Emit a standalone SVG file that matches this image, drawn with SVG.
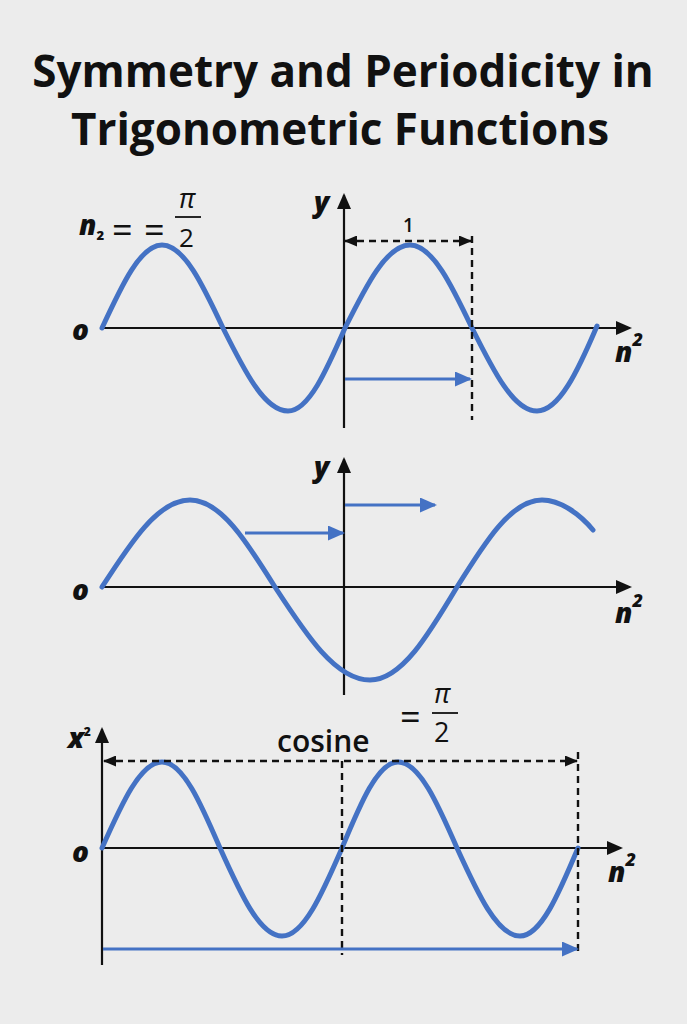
<svg xmlns="http://www.w3.org/2000/svg" width="687" height="1024" viewBox="0 0 687 1024">
<style>
.bg{fill:#ececec}
.title{font-family:"Open Sans","Liberation Sans",sans-serif;font-weight:700;font-size:44px;fill:#111;text-anchor:middle}
.lbl{font-family:"Open Sans","Liberation Sans",sans-serif;font-weight:800;font-style:italic;font-size:28px;fill:#111}
.txt{font-family:"Open Sans","Liberation Sans",sans-serif;fill:#111}
.eq{font-family:"Open Sans","Liberation Sans",sans-serif;fill:#111;font-size:36px;font-weight:500}
.axis{stroke:#111;stroke-width:2.2;fill:none}
.dash{stroke:#111;stroke-width:2.4;stroke-dasharray:7 5;fill:none}
.curve{stroke:#4472c4;stroke-width:5;fill:none;stroke-linecap:round;stroke-linejoin:round}
.barr{stroke:#4472c4;stroke-width:3;fill:none}
.bar{stroke:#111;stroke-width:1.8}
</style>
<defs>
<marker id="axArrow" viewBox="0 0 16 14" refX="14" refY="7" markerWidth="16" markerHeight="14" markerUnits="userSpaceOnUse" orient="auto">
<path d="M0,0 L16,7 L0,14 z" fill="#111"/>
</marker>
<marker id="dArrow" viewBox="0 0 13 11" refX="12" refY="5.5" markerWidth="13" markerHeight="11" markerUnits="userSpaceOnUse" orient="auto-start-reverse">
<path d="M0,0 L13,5.5 L0,11 z" fill="#111"/>
</marker>
<marker id="bArrow" viewBox="0 0 17 15" refX="15" refY="7.5" markerWidth="17" markerHeight="15" markerUnits="userSpaceOnUse" orient="auto">
<path d="M0,0 L17,7.5 L0,15 z" fill="#4472c4"/>
</marker>
</defs>
<rect class="bg" x="0" y="0" width="687" height="1024"/>

<g id="title">
<text class="title" x="343" y="87">Symmetry and Periodicity in</text>
<text class="title" x="340" y="145">Trigonometric Functions</text>
</g>

<g id="panel1">
<line class="axis" x1="102" y1="328" x2="630" y2="328" marker-end="url(#axArrow)"/>
<line class="axis" x1="344" y1="428" x2="344" y2="195" marker-end="url(#axArrow)"/>
<path class="curve" d="M102,328 C121.6,285.5 140.3,245 162,245 C184.1,245 203.1,285.5 223,328 C244.2,370.5 264.5,411 288,411 C308.6,411 326.4,370.5 345,328 C366.2,285.5 386.5,245 410,245 C432.4,245 451.8,285.5 472,328 C493.2,370.5 513.5,411 537,411 C559.1,411 578.1,370.5 597,326"/>
<text class="lbl" x="72" y="340">o</text>
<text class="lbl" x="314" y="212">y</text>
<text class="lbl" x="615" y="362" font-size="30">n<tspan font-size="18" dy="-16">2</tspan></text>
<text class="lbl" x="79" y="235" font-size="26">n<tspan font-size="13" font-style="normal" dy="5">2</tspan></text>
<text class="eq" x="112" y="243">=</text>
<text class="eq" x="144" y="243">=</text>
<text class="txt" x="179" y="208" font-size="27" font-style="italic">π</text>
<line class="bar" x1="175" y1="217" x2="201" y2="217"/>
<text class="txt" x="179" y="247" font-size="26">2</text>
<text class="txt" x="403" y="232" font-size="19" font-weight="600">1</text>
</g>

<g id="panel2">
<line class="axis" x1="102" y1="587" x2="630" y2="587" marker-end="url(#axArrow)"/>
<line class="axis" x1="344" y1="695" x2="344" y2="459" marker-end="url(#axArrow)"/>
<path class="curve" d="M102,587 C130.7,542.5 158.1,500 190,500 C220.8,500 247.3,542.5 275,587 C306,634.6 335.6,680 370,680 C401.5,680 428.6,634.6 457,587 C484.7,542.5 511.2,500 542,500 C560,500 580,514 593,530"/>
<text class="lbl" x="72" y="600">o</text>
<text class="lbl" x="314" y="477">y</text>
<text class="lbl" x="615" y="623" font-size="30">n<tspan font-size="18" dy="-16">2</tspan></text>
</g>

<g id="panel3">
<line class="axis" x1="102" y1="848" x2="621" y2="848" marker-end="url(#axArrow)"/>
<line class="axis" x1="102" y1="965" x2="102" y2="729" marker-end="url(#axArrow)"/>
<path class="curve" d="M102,848 C121.6,804 140.3,762 162,762 C183,762 201.1,804 220,848 C240.2,893 259.6,936 282,936 C303.7,936 322.4,893 342,848 C360.3,804 377.7,762 398,762 C419.4,762 437.8,804 457,848 C477.5,893 497.2,936 520,936 C541,936 559.1,893 578,848"/>
<text class="lbl" x="72" y="862">o</text>
<text class="lbl" x="68" y="748">x<tspan font-size="12" font-style="normal" dy="-12">2</tspan></text>
<text class="lbl" x="608" y="882" font-size="30">n<tspan font-size="18" dy="-16">2</tspan></text>
<text class="txt" x="277" y="752" font-size="30" font-weight="600">cosine</text>
<text class="eq" x="400" y="730">=</text>
<text class="txt" x="434" y="703" font-size="27" font-style="italic">π</text>
<line class="bar" x1="432" y1="713" x2="458" y2="713"/>
<text class="txt" x="434" y="742" font-size="27">2</text>
</g>

<g id="connectors">
<line class="dash" x1="345" y1="241" x2="471" y2="241" marker-start="url(#dArrow)" marker-end="url(#dArrow)"/>
<line class="dash" x1="472" y1="236" x2="472" y2="420"/>
<line class="barr" x1="345" y1="379" x2="470" y2="379" marker-end="url(#bArrow)"/>
<line class="barr" x1="245" y1="533" x2="343" y2="533" marker-end="url(#bArrow)"/>
<line class="barr" x1="345" y1="505" x2="435" y2="505" marker-end="url(#bArrow)"/>
<line class="dash" x1="104" y1="761" x2="577" y2="761" marker-start="url(#dArrow)" marker-end="url(#dArrow)"/>
<line class="dash" x1="342" y1="761" x2="342" y2="955"/>
<line class="dash" x1="578" y1="752" x2="578" y2="955"/>
<line class="barr" x1="103" y1="949" x2="577" y2="949" marker-end="url(#bArrow)"/>
</g>
</svg>
